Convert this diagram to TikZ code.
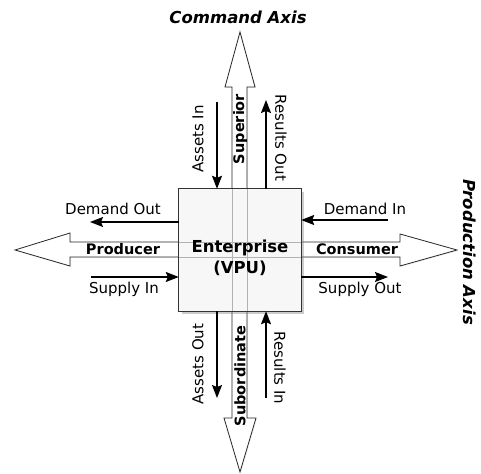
\documentclass[tikz,border=0pt]{standalone}
\usepackage{fontspec}
\setmainfont{DejaVu Sans}
\usetikzlibrary{arrows.meta,shadows}
\tikzset{
  bigarrow/.style={fill=white, draw=black!85, line width=0.8pt, line join=miter},
  bigshadow/.style={drop shadow={opacity=0.12, shadow xshift=1pt, shadow yshift=-1pt}},
  flow/.style={line width=1.4pt, -{Stealth[length=13pt,width=10pt,inset=2pt]}},
  lbl/.style={font=\fontsize{15}{18}\selectfont, inner sep=0pt},
  blbl/.style={font=\fontsize{14.5}{17}\selectfont\bfseries, inner sep=0pt},
  title/.style={font=\fontsize{16.5}{20}\selectfont\bfseries\itshape, inner sep=0pt},
  entbox/.style={fill=black!3, minimum width=122pt, minimum height=122pt, inner sep=0pt,
    drop shadow={opacity=0.4, shadow xshift=2.5pt, shadow yshift=-2.5pt}},
  throughline/.style={draw=black!30, line width=0.8pt},
  boxborder/.style={draw=black!80, line width=1.3pt}
}
\begin{document}
\begin{tikzpicture}[x=1pt,y=-1pt]
\useasboundingbox (0,0) rectangle (481,473);
% big arrows: shadows + fill
\path[bigarrow,draw=none,bigshadow] (240,32) -- (255,87) -- (247,87) -- (247,418) -- (256,418) -- (240,472) -- (224,418) -- (232,418) -- (232,87) -- (225,87) -- cycle;
\path[bigarrow,draw=none,bigshadow] (15,250) -- (70,233) -- (70,242) -- (400,242) -- (400,234) -- (457,250) -- (400,266) -- (400,257) -- (70,257) -- (70,266) -- cycle;
\path[bigarrow,draw=none] (240,32) -- (255,87) -- (247,87) -- (247,418) -- (256,418) -- (240,472) -- (224,418) -- (232,418) -- (232,87) -- (225,87) -- cycle;
% outlines
\draw[bigarrow,fill=none] (240,32) -- (255,87) -- (247,87) -- (247,418) -- (256,418) -- (240,472) -- (224,418) -- (232,418) -- (232,87) -- (225,87) -- cycle;
\draw[bigarrow,fill=none] (15,250) -- (70,233) -- (70,242) -- (400,242) -- (400,234) -- (457,250) -- (400,266) -- (400,257) -- (70,257) -- (70,266) -- cycle;
% enterprise box
\node[entbox] (ent) at (240,250) {};
\draw[throughline] (232,0 |- ent.north) -- (232,0 |- ent.south);
\draw[throughline] (247,0 |- ent.north) -- (247,0 |- ent.south);
\draw[throughline] (ent.west |- 0,242) -- (ent.east |- 0,242);
\draw[throughline] (ent.west |- 0,257) -- (ent.east |- 0,257);
\draw[boxborder] (ent.north west) rectangle (ent.south east);
\node[font=\fontsize{16.5}{21}\selectfont\bfseries, align=center, inner sep=0pt] (enttxt) at (240,258) {Enterprise\\(VPU)};
% titles
\node[title] (cmd) at (238,17) {Command Axis};
\node[title, rotate=-90] (prod) at (470,252) {Production Axis};
% vertical flows
\coordinate (ai) at (217,102);
\coordinate (ro) at (266,100);
\coordinate (ao) at (217,398);
\coordinate (ri) at (266,398);
\draw[flow] (ai) -- (ai |- ent.north);
\draw[flow] (ro |- ent.north) -- (ro);
\draw[flow] (ao |- ent.south) -- (ao);
\draw[flow] (ri) -- (ri |- ent.south);
\node[lbl, rotate=90] (tai) at (198,139) {Assets In};
\node[blbl, rotate=90] (tsup) at (240,129) {Superior};
\node[lbl, rotate=-90] (tro) at (281,138) {Results Out};
\node[lbl, rotate=90] (tao) at (198,364) {Assets Out};
\node[blbl, rotate=90] (tsub) at (240,376) {Subordinate};
\node[lbl, rotate=-90] (tri) at (280,368) {Results In};
% horizontal flows
\coordinate (dout) at (90,222);
\coordinate (sin) at (91,277);
\coordinate (din) at (388,220);
\coordinate (sout) at (388,277);
\draw[flow] (dout -| ent.west) -- (dout);
\draw[flow] (sin) -- (sin -| ent.west);
\draw[flow] (din) -- (din -| ent.east);
\draw[flow] (sout -| ent.east) -- (sout);
\node[lbl] (tdo) at (113,209) {Demand Out};
\node[blbl] (tpr) at (123,249) {Producer};
\node[lbl] (tsi) at (124,289) {Supply In};
\node[lbl] (tdi) at (365,209) {Demand In};
\node[blbl] (tco) at (357,249) {Consumer};
\node[lbl] (tso) at (360,289) {Supply Out};
\end{tikzpicture}
\end{document}
